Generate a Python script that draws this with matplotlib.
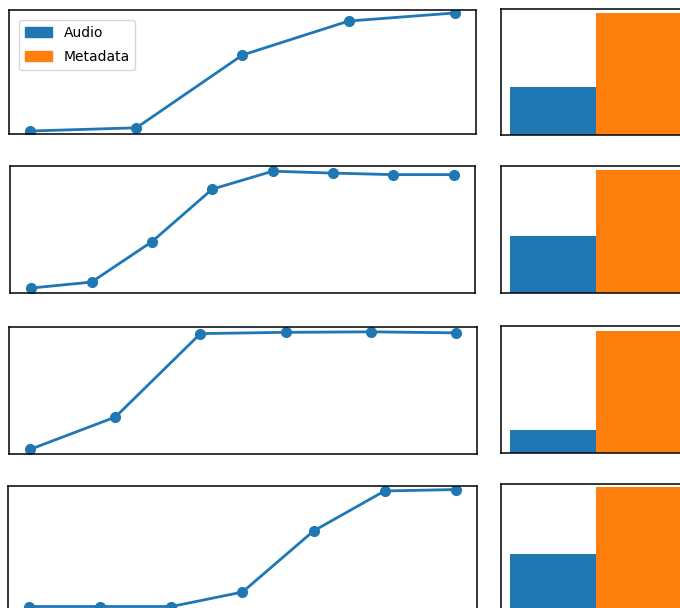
import numpy as np
import matplotlib
matplotlib.use('Agg')
import matplotlib.pyplot as plt
from matplotlib.patches import Patch

W, H = 680, 608

# line panels (normalised scores, one series per row)
line1 = [0.024, 0.050, 0.637, 0.911, 0.976]
line2 = [0.039, 0.086, 0.404, 0.818, 0.959, 0.944, 0.932, 0.932]
line3 = [0.037, 0.291, 0.948, 0.958, 0.962, 0.954]
line4 = [0.051, 0.051, 0.051, 0.165, 0.646, 0.961, 0.972]
lines = [line1, line2, line3, line4]

# bar panels: Audio vs Metadata
labels = ['Audio', 'Metadata']
audio = [0.39, 0.46, 0.19, 0.46]
metadata = [1.0, 1.0, 1.0, 1.0]
bar_ymax = [1.03, 1.033, 1.04, 1.025]

# axes boxes in pixels: left, top, right, bottom
line_boxes = [(9, 10, 476, 134), (10, 166, 475, 293), (9, 327, 477, 454), (8, 486, 477, 613)]
bar_boxes = [(501, 9, 690, 135), (501, 166, 690, 293), (501, 326, 690, 453), (501, 484, 690, 611)]


def px_axes(fig, box):
    l, t, r, b = box
    return fig.add_axes([l / W, 1 - b / H, (r - l) / W, (b - t) / H])


fig = plt.figure(figsize=(W / 100, H / 100), dpi=100)

for i in range(4):
    ax = px_axes(fig, line_boxes[i])
    y = lines[i]
    ax.plot(np.arange(len(y)), y, 'o-', color='#1f77b4', lw=2, ms=7)
    ax.set_ylim(0, 1)
    ax.set_xticks([])
    ax.set_yticks([])
    for s in ax.spines.values():
        s.set_linewidth(1.1)
    if i == 0:
        handles = [Patch(color='#1f77b4'), Patch(color='#ff7f0e')]
        ax.legend(handles, labels, loc='upper left', fontsize=10,
                  labelspacing=0.75, borderaxespad=0.72)

    bx = px_axes(fig, bar_boxes[i])
    bx.bar([0, 1], [audio[i], metadata[i]], width=1.0, color=['#1f77b4', '#ff7f0e'])
    bx.set_xlim(-0.6, 1.6)
    bx.set_ylim(0, bar_ymax[i])
    bx.set_xticks([])
    bx.set_yticks([])
    for s in bx.spines.values():
        s.set_linewidth(1.1)

plt.savefig('out.png', dpi=100)
